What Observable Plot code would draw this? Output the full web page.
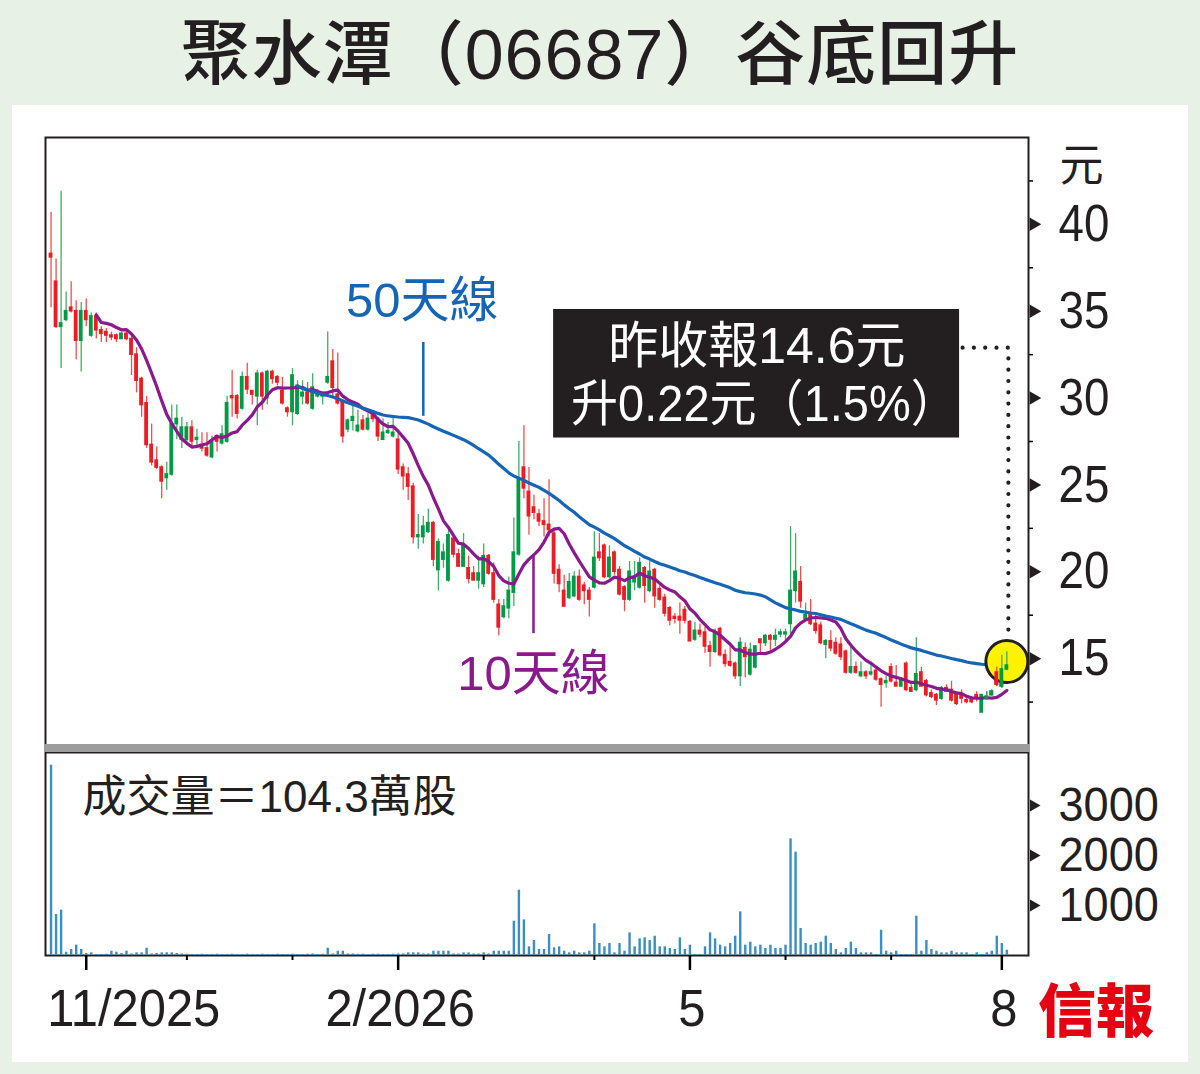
<!DOCTYPE html>
<html><head><meta charset="utf-8">
<script src="https://cdn.jsdelivr.net/npm/d3@7"></script>
<script src="https://cdn.jsdelivr.net/npm/@observablehq/plot@0.6"></script>
<style>
html,body{margin:0;padding:0;background:#e8f1e6;}
#page{position:relative;width:1200px;height:1074px;background:#e8f1e6;overflow:hidden;}
#title{position:absolute;left:0;top:18px;width:1200px;text-align:center;line-height:74px;font-size:70px;font-weight:500;font-family:'Liberation Sans','Noto Sans CJK TC',sans-serif;color:#231f20;letter-spacing:1px;}
#panel{position:absolute;left:12px;top:105px;width:1176px;height:957px;background:#fff;}
#price,#volume{position:absolute;left:0;}
#price{top:100px;}
#volume{top:745px;}
#sep{position:absolute;left:44px;top:744px;width:986px;height:8px;background:#9d9d9d;}
#logo{position:absolute;left:1038px;top:972px;font-family:'Noto Sans CJK TC',sans-serif;font-weight:900;font-size:58px;line-height:70px;color:#e50012;}
</style></head>
<body>
<div id="page">
  <div id="panel"></div>
  <div id="title">聚水潭（06687）谷底回升</div>
  <div id="price"></div>
  <div id="volume"></div>
  <div id="sep"></div>
  <div id="logo">信報</div>
</div>
<script>
// ---------- data ----------
const open = [38.3,36.7,34.1,34.5,35.2,35.0,33.3,35.0,33.6,34.7,33.9,33.8,33.6,33.6,33.4,33.7,33.4,32.5,31.1,29.7,
27.3,26.4,26.0,25.4,25.6,28.5,27.6,27.6,28.3,27.6,27.3,27.1,26.6,27.8,27.4,27.5,30.1,30.1,29.4,31.2,
30.4,30.1,31.4,30.0,31.5,31.2,30.4,29.4,29.2,29.1,30.1,30.3,29.4,30.1,30.1,30.9,32.1,30.2,29.8,28.2,
28.7,28.1,28.7,28.2,29.0,28.8,27.6,28.0,27.8,27.6,26.0,25.6,24.9,22.0,22.0,22.3,22.8,20.1,20.7,19.5,
21.9,21.0,20.3,20.2,19.9,19.5,19.3,20.9,19.9,18.1,17.4,17.9,18.8,21.0,26.0,24.6,23.7,23.3,22.9,22.7,
22.2,20.1,18.9,18.5,18.6,19.7,19.2,18.9,19.1,21.1,21.5,19.7,21.1,20.1,19.1,18.4,19.4,19.1,20.2,18.9,
20.1,19.0,18.5,17.9,17.4,17.4,17.8,17.1,16.1,16.6,16.5,15.7,15.4,16.7,15.2,14.8,14.7,14.0,15.6,14.1,
14.5,16.1,15.9,16.3,16.1,16.4,16.4,17.0,18.9,19.4,17.3,17.5,17.0,16.9,15.8,16.0,15.9,15.8,15.4,14.2,
14.5,14.0,14.2,14.1,14.3,13.8,13.6,14.5,13.6,13.4,14.7,13.3,13.2,14.2,13.7,13.0,12.9,12.7,13.3,13.2,
12.9,12.9,12.6,12.6,12.9,11.9,12.7,12.9,14.2,13.4,14.38];
const high = [40.7,38.0,41.9,36.1,36.7,35.6,35.5,35.7,34.9,34.9,34.1,34.0,33.8,33.7,33.8,33.9,33.6,32.9,31.2,30.1,
28.5,27.2,26.1,26.3,29.6,29.6,28.9,28.6,28.7,28.2,28.0,28.0,27.8,27.9,28.4,30.1,31.6,30.2,31.5,32.0,
30.4,31.6,31.5,31.6,31.6,31.3,31.2,29.5,31.7,31.0,31.0,30.9,31.4,30.5,30.3,33.8,32.8,32.6,29.9,28.8,
29.8,29.3,29.0,29.1,29.1,28.9,28.8,28.6,28.9,28.0,26.2,26.0,25.1,23.3,23.2,23.6,22.9,21.9,21.6,22.4,
22.1,21.3,22.2,20.9,20.3,20.9,21.6,21.0,20.5,18.4,18.4,19.7,23.1,27.5,28.4,26.0,24.4,23.6,24.2,25.3,
22.5,20.4,19.8,19.9,20.0,20.1,19.4,19.1,22.3,22.2,21.6,21.5,21.2,20.3,19.2,20.6,20.6,20.8,20.3,20.6,
20.2,19.2,18.7,18.0,17.6,18.2,18.0,17.2,17.1,17.0,16.8,16.0,16.7,16.8,15.5,15.8,14.8,16.2,15.9,15.9,
15.7,16.1,16.4,16.4,16.7,16.7,16.7,22.6,22.2,20.3,18.2,18.4,17.5,17.1,16.1,16.6,16.2,16.2,15.5,15.8,
14.8,14.8,14.3,14.8,14.4,13.9,14.0,14.7,14.6,13.9,14.8,13.5,16.2,14.5,13.8,13.2,13.0,13.4,13.5,13.7,
13.0,13.2,12.9,12.8,13.1,12.9,13.1,13.2,14.5,15.2,15.4];
const low = [35.2,34.0,31.7,34.4,34.9,32.2,31.5,34.1,33.5,33.4,33.2,33.2,33.3,33.2,33.4,33.3,31.3,30.3,28.9,27.1,
26.1,25.9,24.2,24.7,25.5,27.6,27.1,27.4,27.2,27.2,26.9,26.6,26.5,26.9,27.3,27.4,28.9,28.8,29.3,30.2,
29.6,28.4,29.3,29.6,30.8,30.7,29.6,28.9,28.4,29.0,29.6,29.6,29.3,30.0,29.6,30.8,30.0,29.6,27.4,28.0,
28.1,28.0,28.1,28.1,28.6,27.5,27.6,27.9,27.7,25.6,24.7,24.1,21.6,21.3,21.6,22.2,20.3,18.9,20.2,19.4,
20.8,20.3,20.3,19.3,19.5,19.0,19.1,19.8,18.2,16.3,17.3,17.3,18.0,20.9,24.2,22.1,23.0,22.6,22.0,22.0,
19.3,18.8,18.0,18.4,18.5,18.3,18.1,17.4,19.0,20.6,19.6,19.6,19.8,18.6,17.7,18.3,18.9,19.0,18.2,18.8,
17.9,18.3,17.4,16.9,17.0,16.4,17.0,16.0,16.0,16.2,15.3,14.5,15.3,15.1,14.5,14.5,13.8,13.4,13.9,14.0,
14.4,15.3,15.7,15.4,15.7,16.2,15.9,16.4,18.2,17.9,17.2,16.9,16.4,15.8,15.0,15.4,15.2,14.9,14.1,14.1,
14.1,13.9,13.8,14.0,13.7,12.2,13.3,13.6,13.4,13.4,13.1,13.1,13.1,13.4,12.8,12.7,12.3,12.6,13.1,12.5,
12.3,12.4,12.4,12.4,12.5,11.9,12.6,12.9,13.4,13.3,14.3];
const close = [38.1,34.1,34.3,35.0,35.0,33.3,35.0,34.5,34.7,33.9,33.7,33.6,33.5,33.4,33.7,33.4,32.5,31.0,29.6,27.3,
26.3,26.0,25.2,25.6,28.5,28.8,28.3,28.3,27.5,27.7,27.1,26.7,27.5,27.5,27.9,29.7,30.0,29.1,31.2,30.5,
30.2,31.4,30.1,31.5,31.1,30.9,29.7,29.2,31.3,30.7,30.3,29.7,30.6,30.3,30.2,31.2,30.6,29.7,27.8,28.7,
28.9,28.4,28.2,28.8,28.8,27.8,28.0,28.1,28.0,25.9,25.5,24.9,22.0,22.1,22.6,22.8,20.7,21.7,21.1,22.1,
21.0,20.3,21.5,19.6,19.5,19.9,20.9,19.9,18.4,16.8,18.0,18.9,21.1,25.3,24.8,23.2,23.4,22.9,22.7,22.4,
19.9,19.3,18.0,19.4,19.7,18.4,18.9,18.4,20.8,20.8,19.7,20.8,20.0,18.7,18.4,20.0,19.6,20.5,19.2,20.0,
18.6,18.4,17.6,17.2,17.3,17.2,17.2,16.0,16.6,16.4,15.7,15.4,16.5,15.2,14.7,14.6,14.0,15.9,15.1,15.5,
15.7,15.9,16.3,16.1,16.3,16.5,16.5,18.9,20.0,18.3,17.5,17.0,16.6,15.9,16.0,15.6,15.3,15.1,14.2,14.5,
14.2,14.2,14.0,14.2,13.8,13.5,13.7,13.7,13.4,13.7,13.2,13.1,14.1,13.4,12.9,12.8,12.6,13.3,13.1,12.6,
12.4,12.7,12.5,12.5,12.7,12.9,12.8,13.1,13.5,14.38,14.6];
// volume, 萬股
const volume = [3806,820,906,66,120,206,120,40,53,20,20,25,86,66,40,86,30,53,53,146,
30,40,53,53,53,40,30,25,20,20,25,20,20,25,20,20,25,20,20,25,
20,20,25,20,20,25,20,20,25,20,20,25,30,20,25,146,30,86,86,30,
30,25,25,20,25,25,20,20,25,30,30,53,53,53,30,30,86,86,86,86,
30,30,53,53,30,30,53,30,86,86,86,86,686,1306,713,173,300,120,120,420,
153,173,86,53,86,53,53,86,633,240,173,240,53,240,86,453,173,333,353,300,
386,173,173,140,120,353,120,206,20,20,173,453,333,206,173,240,386,873,206,266,
173,206,140,206,140,140,206,2333,2066,540,240,206,240,266,386,240,120,53,140,266,
140,53,53,53,20,506,86,53,86,20,20,20,786,86,300,120,86,53,53,86,
53,53,53,20,53,20,53,86,386,240,104.3];
// trading-day index of the first session of each month
const monthIdx = [7,27,48,69,86,108,127,146,167,189];
const monthLabels = ["11/2025","","","2/2026","","","5","","","8"];
const priceTicks = [15,20,25,30,35,40];
const priceMinor = [12.5,17.5,22.5,27.5,32.5,37.5,42.5];
const volTicks = [1000,2000,3000];
const volText = "成交量＝104.3萬股";
const noteLines = ["昨收報14.6元","升0.22元（1.5%）"];
const ma50Text = "50天線", ma10Text = "10天線", unitText = "元";

// ---------- build ----------
const rows = close.map((c,i)=>({i, open:open[i], high:high[i], low:low[i], close:c, volume:volume[i]}));
const FONT = "'Liberation Sans','Noto Sans CJK TC',sans-serif";
const CJK = "'Noto Sans CJK TC',sans-serif";
const INK = "#231f20";
const UP = "#009a44", DOWN = "#ed1c24", UPW = "#3fae66", DOWNW = "#f04e4e";
const BLUE = "#1565b6", PURPLE = "#8a1a8c";
const XD = [-1.1, 194.3];
const W = 1200, ML = 45, MR = 172;

const candleMarks = (data) => [
  Plot.ruleX(data, {x:"i", y1:"low", y2:"high", stroke:d=>d.close>=d.open?UPW:DOWNW, strokeWidth:1.3}),
  Plot.rect(data, {x1:d=>d.i-0.38, x2:d=>d.i+0.38, y1:"open", y2:"close",
    fill:d=>d.close>=d.open?UP:DOWN, insetTop:-0.8, insetBottom:-0.8})
];
const last = rows[rows.length-1];

const price = Plot.plot({
  width: W, height: 660, marginLeft: ML, marginRight: MR, marginTop: 37, marginBottom: 15,
  style: {background:"transparent", overflow:"visible"},
  x: {domain: XD, axis: null, label: null},
  y: {domain: [10,45], axis: null, label: null},
  color: {type:"identity"},
  marks: [
    Plot.frame({stroke: INK, strokeWidth: 2}),
    ...candleMarks(rows),
    Plot.lineY(rows, Plot.windowY({k:10, anchor:"end", reduce:"mean", strict:true},
      {x:"i", y:"close", stroke:PURPLE, strokeWidth:3.2})),
    Plot.lineY(rows, Plot.windowY({k:50, anchor:"end", reduce:"mean", strict:true},
      {x:"i", y:"close", stroke:BLUE, strokeWidth:3.2})),
    // labels for the moving averages
    Plot.ruleX([74], {y1:33.2, y2:28.95, stroke:BLUE, strokeWidth:2.5}),
    Plot.text([ma50Text], {x:73.8, y:35.55, text:d=>d, fill:BLUE, fontSize:49, fontFamily:FONT, lineAnchor:"middle"}),
    Plot.ruleX([95.9], {y1:20.94, y2:16.44, stroke:PURPLE, strokeWidth:2.5}),
    Plot.text([ma10Text], {x:95.9, y:14.1, text:d=>d, fill:PURPLE, fontSize:49, fontFamily:FONT, lineAnchor:"middle"}),
    // note box
    Plot.rect([0], {x1:99.9, x2:180.6, y1:35.1, y2:27.7, fill:INK}),
    Plot.text(noteLines, {x:(d,k)=>[140.3,141.8][k], y:(d,k)=>[32.95,29.6][k], text:d=>d, fill:"#fff", fontSize:50, fontFamily:FONT, lineAnchor:"middle"}),
    Plot.line([[181.2,32.9],[190.3,32.9],[190.3,16.2]], {x:d=>d[0], y:d=>d[1], stroke:INK, strokeWidth:4.2,
      strokeDasharray:"0,11.3", strokeLinecap:"round"}),
    // highlight of the last close
    Plot.dot([last], {x:"i", y:"close", r:21, dy:-4, fill:"#fff200", stroke:INK, strokeWidth:3}),
    ...candleMarks(rows.slice(-5)),
    // right axis
    Plot.axisY(priceMinor, {anchor:"right", tickSize:4, strokeWidth:1.5, tickFormat:()=>"", label:null}),
    Plot.dot(priceTicks, {y:d=>d, frameAnchor:"right", symbol:"triangle", rotate:90, r:5, dx:5, fill:INK}),
    Plot.text(priceTicks, {y:d=>d, text:d=>String(d), frameAnchor:"right", dx:30, textAnchor:"start", lineAnchor:"middle",
      fontSize:52, fontFamily:FONT, fill:INK}),
    Plot.text([unitText], {text:d=>d, frameAnchor:"top-right", dx:53, dy:29, textAnchor:"middle", lineAnchor:"middle",
      fontSize:44, fontFamily:CJK, fill:INK})
  ]
});
document.getElementById("price").appendChild(price);

const majors = monthIdx.map((m,k)=>({i:m, label:monthLabels[k]})).filter(d=>d.label);
const minors = monthIdx.filter((m,k)=>!monthLabels[k]);

const vol = Plot.plot({
  width: W, height: 300, marginLeft: ML, marginRight: MR, marginTop: 7, marginBottom: 90,
  style: {background:"transparent", overflow:"visible"},
  x: {domain: XD, axis: null, label: null},
  y: {domain: [0,4060], axis: null, label: null},
  marks: [
    Plot.frame({stroke: INK, strokeWidth: 2}),
    Plot.ruleX(rows, {x:"i", y:"volume", stroke:"#3a8ec0", strokeWidth:2.4}),
    Plot.text([volText], {text:d=>d, frameAnchor:"top-left", dx:37, dy:45, textAnchor:"start", lineAnchor:"middle",
      fontSize:44, fontFamily:FONT, fill:INK}),
    Plot.dot(volTicks, {y:d=>d, frameAnchor:"right", symbol:"triangle", rotate:90, r:4.5, dx:5, fill:INK}),
    Plot.text(volTicks, {y:d=>d, text:d=>String(d), frameAnchor:"right", dx:30, textAnchor:"start", lineAnchor:"middle",
      fontSize:48, fontFamily:FONT, fill:INK}),
    Plot.axisX(minors, {anchor:"bottom", tickSize:5, strokeWidth:2, tickFormat:()=>"", label:null}),
    Plot.axisX(majors.map(d=>d.i), {anchor:"bottom", tickSize:15, strokeWidth:2.5, tickFormat:()=>"", label:null}),
    Plot.text(majors.slice(0,1), {x:"i", text:"label", frameAnchor:"bottom", dy:54, dx:-39, textAnchor:"start", lineAnchor:"middle",
      fontSize:52, fontFamily:FONT, fill:INK}),
    Plot.text(majors.slice(1), {x:"i", text:"label", frameAnchor:"bottom", dy:54, dx:2, lineAnchor:"middle",
      fontSize:52, fontFamily:FONT, fill:INK})
  ]
});
document.getElementById("volume").appendChild(vol);

// condensed look for figures (the reference uses a narrow face)
const squeeze = {"升0.22元（1.5%）": 0.94};
[[price, 0.88], [vol, 0.94]].forEach(([svg, numF]) => {
  svg.querySelectorAll("text").forEach(t => {
    const s = t.textContent;
    const f = /^[0-9.\/]+$/.test(s) ? numF : squeeze[s];
    if (!f) return;
    const x = +t.getAttribute("x") || 0;
    const tr = t.getAttribute("transform") || "";
    t.setAttribute("transform", `${tr} translate(${x},0) scale(${f},1) translate(${-x},0)`);
  });
});
</script>
</body></html>
